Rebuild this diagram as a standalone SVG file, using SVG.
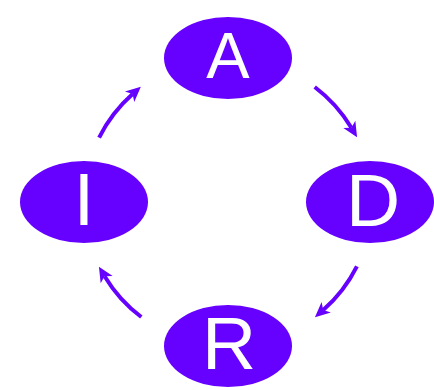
<svg xmlns="http://www.w3.org/2000/svg" width="434" height="390" viewBox="0 0 434 390">
<style>
.node ellipse{fill:#6600FF;}
.node text{fill:#FFFFFF;font-family:"Liberation Sans",Arial,sans-serif;text-anchor:middle;}
.edge{fill:none;stroke:#6600FF;stroke-width:4;marker-end:url(#arrow);}
</style>
<defs>
<marker id="arrow" markerUnits="userSpaceOnUse" markerWidth="18" markerHeight="16" refX="4" refY="7" orient="auto" viewBox="0 0 18 14" overflow="visible">
<path d="M0,0 L15,7 L0,14 L4,7 z" fill="#6600FF"/>
</marker>
</defs>
<rect width="434" height="390" fill="#FFFFFF"/>
<g id="connectors">
<path class="edge" d="M314.7,87 A144,144 0 0 1 351.4,127.8"/>
<path class="edge" d="M356.9,266.3 A144,144 0 0 1 323.2,310"/>
<path class="edge" d="M141.3,317 A144,144 0 0 1 104.6,276.2"/>
<path class="edge" d="M99.1,137.7 A144,144 0 0 1 132.6,94.1"/>
</g>
<g id="node-A" class="node">
<ellipse cx="228" cy="58" rx="64" ry="41"/>
<text x="228" y="78" font-size="65">A</text>
</g>
<g id="node-D" class="node">
<ellipse cx="370" cy="202" rx="64" ry="41"/>
<text x="373" y="226" font-size="75">D</text>
</g>
<g id="node-R" class="node">
<ellipse cx="228" cy="346" rx="64" ry="41"/>
<text x="229" y="369" font-size="75">R</text>
</g>
<g id="node-I" class="node">
<ellipse cx="84" cy="202" rx="64" ry="41"/>
<text x="84" y="225" font-size="75">I</text>
</g>
</svg>
